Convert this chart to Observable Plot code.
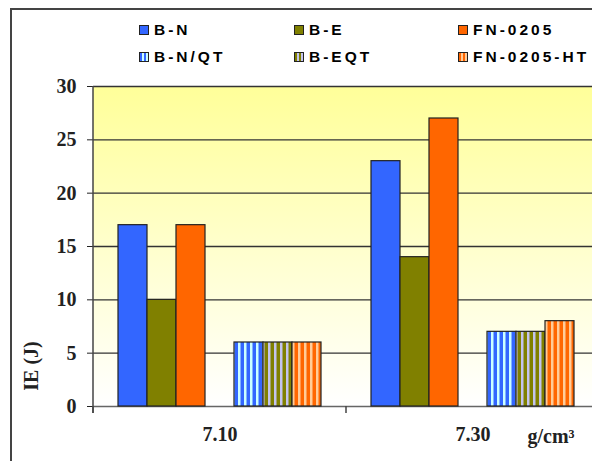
<!DOCTYPE html>
<html><head><meta charset="utf-8">
<script src="https://cdn.jsdelivr.net/npm/d3@7"></script>
<script src="https://cdn.jsdelivr.net/npm/@observablehq/plot@0.6"></script>
<style>
body{margin:0;background:#fff;}
#wrap{position:relative;width:592px;height:461px;overflow:hidden;background:#fff;}
#frame{position:absolute;left:10px;top:8px;width:640px;height:520px;border:2px solid #444;box-sizing:border-box;}
#chart{position:absolute;left:0;top:0;width:700px;}
#chart svg{max-width:none !important;}
#legend{position:absolute;left:0;top:0;font-family:"Liberation Sans",Arial,sans-serif;font-weight:bold;font-size:15.5px;letter-spacing:3px;color:#000;}
.item{position:absolute;display:flex;align-items:center;white-space:nowrap;transform:translateY(-50%);}
.sw{width:8px;height:8px;border:1px solid #222;margin-right:5px;flex:none;}
</style></head><body>
<div id="wrap"><div id="frame"></div><div id="chart"></div><div id="legend"></div></div>
<script>
// ---- data ----
const categories = ["7.10", "7.30"];
const series = ["B-N", "B-E", "FN-0205", "B-N/QT", "B-EQT", "FN-0205-HT"];
const valuesBN = [17, 23];
const valuesBE = [10, 14];
const valuesFN = [17, 27];
const valuesBNQT = [6, 7];
const valuesBEQT = [6, 7];
const valuesFNHT = [6, 8];
const yTicks = [0, 5, 10, 15, 20, 25, 30];
const unitLabel = "g/cm³";
const yLabel = "IE (J)";

// ---- styles ----
const fills = {
  "B-N": "#3366FF", "B-E": "#808000", "FN-0205": "#FF6600",
  "B-N/QT": "url(#pBN)", "B-EQT": "url(#pBE)", "FN-0205-HT": "url(#pFN)"
};
const stripes = {
  pBN: ["#3366FF", "#CCFFFF"],
  pBE: ["#808000", "#C4C4EE"],
  pFN: ["#FF6600", "#FFCC99"]
};
const slots = ["B-N", "B-E", "FN-0205", "_gap", "B-N/QT", "B-EQT", "FN-0205-HT"];

const allValues = [valuesBN, valuesBE, valuesFN, valuesBNQT, valuesBEQT, valuesFNHT];
const rows = [];
categories.forEach((c, i) => series.forEach((s, j) => rows.push({cat: c, series: s, value: allValues[j][i], fill: fills[s]})));

const W = 600, H = 461, ML = 92, MR = 1, MT = 86, MB = 55;

const chart = Plot.plot({
  width: W, height: H,
  marginLeft: ML, marginRight: MR, marginTop: MT, marginBottom: MB,
  style: {background: "transparent", fontFamily: "'Liberation Serif','Times New Roman',serif", fontSize: "20px", fontWeight: "bold", color: "#222", overflow: "visible", maxWidth: "none"},
  facet: {data: rows, x: "cat"},
  fx: {domain: categories, padding: 0, label: null, tickSize: 0, tickPadding: 20},
  x: {domain: slots, paddingInner: 0, paddingOuter: 0.733, axis: null},
  y: {domain: [0, 30], ticks: yTicks, tickSize: 6, tickPadding: 11, label: null},
  color: {type: "identity"},
  marks: [
    Plot.ruleY(yTicks.filter(d => d > 0), {stroke: "#333", strokeWidth: 1.3}),
    Plot.ruleY([0], {stroke: "#666", strokeWidth: 1.5}),
    Plot.barY(rows, {x: "series", y: "value", fill: "fill", stroke: "#222", strokeWidth: 1.2})
  ]
});

const svg = d3.select(chart);
const defs = svg.insert("defs", ":first-child");
const grad = defs.append("linearGradient").attr("id", "bgGrad").attr("x1", 0).attr("y1", 0).attr("x2", 0).attr("y2", 1);
grad.append("stop").attr("offset", "0%").attr("stop-color", "#FFFF99");
grad.append("stop").attr("offset", "100%").attr("stop-color", "#FFFFFF");
for (const [id, [a, b]] of Object.entries(stripes)) {
  const p = defs.append("pattern").attr("id", id).attr("patternUnits", "userSpaceOnUse").attr("width", 6).attr("height", 6);
  p.append("rect").attr("width", 6).attr("height", 6).attr("fill", a);
  p.append("rect").attr("x", 3).attr("width", 2.5).attr("height", 6).attr("fill", b);
}

const y = chart.scale("y");
const fxS = chart.scale("fx");
const bounds = categories.map(c => fxS.apply(c));
const x0 = bounds[0];
const x1 = fxS.apply(categories[categories.length - 1]) + fxS.bandwidth;
const yTop = y.apply(30), yBot = y.apply(0);
svg.insert("rect", "g").attr("x", x0).attr("y", yTop).attr("width", x1 - x0).attr("height", yBot - yTop).attr("fill", "url(#bgGrad)");

const over = svg.append("g");
over.append("line").attr("x1", x0).attr("x2", x0).attr("y1", yTop).attr("y2", yBot + 7).attr("stroke", "#444").attr("stroke-width", 1.5);
bounds.forEach(b => over.append("line").attr("x1", b).attr("x2", b).attr("y1", yBot).attr("y2", yBot + 7).attr("stroke", "#444").attr("stroke-width", 1.5));
over.append("text").text(yLabel).attr("transform", `translate(38,366) rotate(-90)`).attr("text-anchor", "middle").attr("fill", "#222");
over.append("text").text(unitLabel).attr("x", 551).attr("y", 443).attr("text-anchor", "middle").attr("font-size", 20).attr("fill", "#222");

document.getElementById("chart").appendChild(chart);

// legend
const legend = document.getElementById("legend");
const colX = [139, 294, 458], rowY = [30, 57];
series.forEach((s, i) => {
  const it = document.createElement("div");
  it.className = "item";
  it.style.left = colX[i % 3] + "px";
  it.style.top = rowY[Math.floor(i / 3)] + "px";
  const sw = document.createElement("div");
  sw.className = "sw";
  const st = stripes[fills[s].replace(/url\(#|\)/g, "")];
  sw.style.background = st ? `repeating-linear-gradient(90deg, ${st[0]} 0 2px, ${st[1]} 2px 4px)` : fills[s];
  const t = document.createElement("span");
  t.textContent = s;
  it.appendChild(sw); it.appendChild(t);
  legend.appendChild(it);
});
</script>
</body></html>
